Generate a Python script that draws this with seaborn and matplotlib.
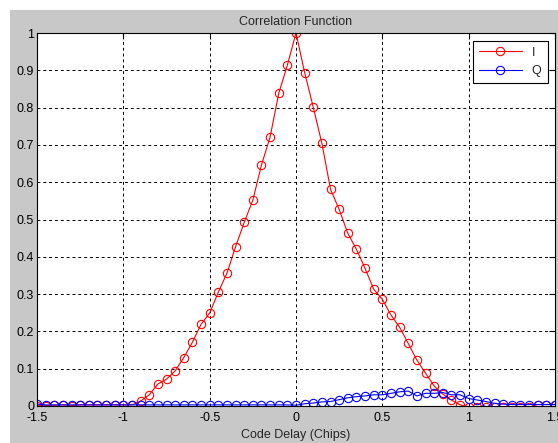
import pandas as pd
import matplotlib.pyplot as plt
import seaborn as sns
from matplotlib.patches import Rectangle

# -----------------------------
# Data
# -----------------------------

code_delay = [-1.5, -1.45, -1.4, -1.35, -1.3, -1.25, -1.2, -1.15, -1.1, -1.05,
              -1.0, -0.95, -0.9, -0.85, -0.8, -0.75, -0.7, -0.65, -0.6, -0.55,
              -0.5, -0.45, -0.4, -0.35, -0.3, -0.25, -0.2, -0.15, -0.1, -0.05,
              0.0, 0.05, 0.1, 0.15, 0.2, 0.25, 0.3, 0.35, 0.4, 0.45,
              0.5, 0.55, 0.6, 0.65, 0.7, 0.75, 0.8, 0.85, 0.9, 0.95,
              1.0, 1.05, 1.1, 1.15, 1.2, 1.25, 1.3, 1.35, 1.4, 1.45, 1.5]

corr_i = [0.001, 0.001, 0.002, 0.003, 0.001, 0.003, 0.003, 0.003, 0.003, 0.003,
          0.003, 0.003, 0.013, 0.030, 0.059, 0.072, 0.094, 0.130, 0.171, 0.219,
          0.249, 0.305, 0.356, 0.427, 0.492, 0.552, 0.646, 0.721, 0.838, 0.914,
          1.0, 0.894, 0.801, 0.704, 0.581, 0.527, 0.463, 0.420, 0.369, 0.313,
          0.286, 0.244, 0.211, 0.168, 0.123, 0.088, 0.054, 0.032, 0.016, 0.003,
          -0.002, -0.003, -0.003, -0.004, -0.003, -0.003, -0.004, -0.003, 0.004, 0.004, 0.004]

corr_q = [0.005, 0.003, 0.003, 0.003, 0.003, 0.003, 0.003, 0.003, 0.003, 0.003,
          0.003, 0.003, 0.003, 0.003, 0.003, 0.003, 0.003, 0.003, 0.003, 0.003,
          0.003, 0.003, 0.003, 0.003, 0.003, 0.003, 0.003, 0.003, 0.003, 0.003,
          0.002, 0.006, 0.008, 0.011, 0.012, 0.017, 0.022, 0.025, 0.027, 0.030,
          0.030, 0.034, 0.038, 0.040, 0.027, 0.034, 0.034, 0.036, 0.030, 0.030,
          0.020, 0.016, 0.012, 0.007, 0.005, 0.004, 0.004, 0.004, 0.004, 0.004, 0.004]

x_ticks = [-1.5, -1, -0.5, 0, 0.5, 1, 1.5]
x_tick_labels = ["-1.5", "-1", "-0.5", "0", "0.5", "1", "1.5"]
y_ticks = [0, 0.1, 0.2, 0.3, 0.4, 0.5, 0.6, 0.7, 0.8, 0.9, 1]
y_tick_labels = ["0", "0.1", "0.2", "0.3", "0.4", "0.5", "0.6", "0.7", "0.8", "0.9", "1"]

df = pd.DataFrame({"delay": code_delay, "I": corr_i, "Q": corr_q})

# -----------------------------
# Style
# -----------------------------

sns.set_style("white")
plt.rcParams["font.family"] = ["Liberation Sans", "DejaVu Sans"]
plt.rcParams["font.size"] = 9

fig = plt.figure(figsize=(5.58, 4.43), dpi=100, facecolor="white")
# matlab-like grey figure panel (white strip at top and left)
fig.patches.append(Rectangle((10 / 558, 0), 1 - 10 / 558, 1 - 10 / 443,
                             transform=fig.transFigure, facecolor="#c8c8c8",
                             edgecolor="none", zorder=-10))

ax = fig.add_axes([37 / 558, 37 / 443, 518 / 558, 373 / 443])
ax.set_facecolor("white")

# -----------------------------
# Plot
# -----------------------------

sns.lineplot(data=df, x="delay", y="I", ax=ax, color="red", lw=0.8,
             marker="o", markersize=6, markerfacecolor="none",
             markeredgecolor="red", markeredgewidth=0.8,
             estimator=None, sort=False, label="I")
sns.lineplot(data=df, x="delay", y="Q", ax=ax, color="blue", lw=0.8,
             marker="o", markersize=6, markerfacecolor="none",
             markeredgecolor="blue", markeredgewidth=0.8,
             estimator=None, sort=False, label="Q")

ax.set_xlim(-1.5, 1.5)
ax.set_ylim(0, 1)
ax.set_xticks(x_ticks)
ax.set_xticklabels(x_tick_labels)
ax.set_yticks(y_ticks)
ax.set_yticklabels(y_tick_labels)
ax.tick_params(direction="in", length=4, width=0.8, colors="black",
               labelsize=9, pad=2, top=True, right=True)
ax.tick_params(axis="x", pad=4)

ax.grid(True, color="black", linestyle=(0, (3, 3)), linewidth=0.7)
for s in ax.spines.values():
    s.set_color("black")
    s.set_linewidth(0.8)

ax.set_title("Correlation Function", fontsize=9, pad=6)
ax.set_xlabel("Code Delay (Chips)", fontsize=9, labelpad=4)
ax.set_ylabel("")

leg = ax.legend(loc="upper right", fontsize=9, frameon=True, fancybox=False,
                handlelength=3.4, borderaxespad=0.6, framealpha=1,
                edgecolor="black", borderpad=0.5, labelspacing=0.5)
leg.get_frame().set_linewidth(0.8)

plt.savefig("out.png", dpi=100)
